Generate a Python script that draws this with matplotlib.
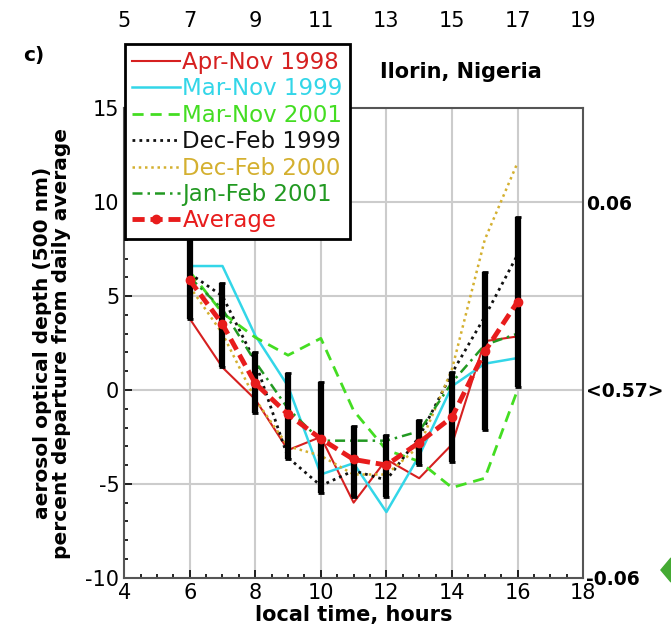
import matplotlib
matplotlib.use("Agg")
import matplotlib.pyplot as plt
from matplotlib.ticker import MultipleLocator
from matplotlib.patches import Polygon

plt.rcParams["font.family"] = ["DejaVu Sans"]
plt.rcParams["axes.unicode_minus"] = False

hours = [6, 7, 8, 9, 10, 11, 12, 13, 14, 15, 16]

apr_nov_1998 = [3.8, 1.2, -0.5, -3.2, -2.5, -6.0, -3.7, -4.7, -2.9, 2.6, 2.85]
mar_nov_1999 = [6.6, 6.6, 2.9, 0.2, -4.5, -3.9, -6.5, -3.5, 0.2, 1.4, 1.7]
mar_nov_2001 = [6.3, 4.1, 2.8, 1.85, 2.75, -1.1, -3.2, -3.8, -5.2, -4.7, 0.0]
dec_feb_1999 = [6.2, 5.0, 1.5, -3.6, -5.1, -4.3, -4.8, -2.5, 0.9, 3.9, 7.2]
dec_feb_2000 = [5.5, 3.0, -0.5, -3.0, -3.5, -4.5, -4.5, -3.0, 1.1, 8.0, 12.1]
jan_feb_2001 = [6.0, 4.3, 1.5, -1.0, -2.7, -2.7, -2.7, -2.2, 0.4, 2.4, 3.0]
average = [5.85, 3.5, 0.35, -1.3, -2.6, -3.7, -4.0, -2.8, -1.45, 2.05, 4.7]
err_low = [3.8, 1.2, -1.2, -3.7, -5.5, -5.7, -5.7, -4.0, -3.85, -2.15, 0.15]
err_high = [8.5, 5.7, 2.0, 0.9, 0.45, -1.9, -2.4, -1.6, 0.95, 6.3, 9.2]

top_ticks = [4, 6, 8, 10, 12, 14, 16, 18]
top_labels = ["5", "7", "9", "11", "13", "15", "17", "19"]
right_ticks = [10, 0, -10]
right_labels = ["0.06", "<0.57>", "-0.06"]

series = [
    ("Apr-Nov 1998", apr_nov_1998, "#d62020", "-", 1.5),
    ("Mar-Nov 1999", mar_nov_1999, "#33d6e8", "-", 1.8),
    ("Mar-Nov 2001", mar_nov_2001, "#44dd22", (0, (4, 2.5)), 2.0),
    ("Dec-Feb 1999", dec_feb_1999, "#111111", (0, (1, 1.5)), 2.0),
    ("Dec-Feb 2000", dec_feb_2000, "#d4b030", (0, (1, 1.5)), 1.8),
    ("Jan-Feb 2001", jan_feb_2001, "#229922", (0, (4, 2, 1, 2)), 1.8),
]

fig = plt.figure(figsize=(6.71, 6.37), dpi=100)
ax = fig.add_axes([0.185, 0.093, 0.684, 0.737])

for x in range(6, 17, 2):
    ax.axvline(x, color="#cccccc", lw=1.5, zorder=0)
for y in [-5, 0, 5, 10]:
    ax.axhline(y, color="#cccccc", lw=1.5, zorder=0)

handles = []
for label, vals, color, ls, lw in series:
    (h,) = ax.plot(hours, vals, color=color, ls=ls, lw=lw, label=label, zorder=2)
    handles.append(h)

yerr = [[a - l for a, l in zip(average, err_low)], [h - a for a, h in zip(average, err_high)]]
ax.errorbar(hours, average, yerr=yerr, fmt="none", ecolor="black", elinewidth=4.5,
            capsize=2, capthick=2, zorder=3)
(h_avg,) = ax.plot(hours, average, color="#e81c1c", ls=(0, (2.5, 1.2)), lw=3.5,
                   marker="o", ms=6, label="Average", zorder=4)
handles.append(h_avg)

ax.set_xlim(4, 18)
ax.set_ylim(-10, 15)
ax.set_xticks(range(4, 19, 2))
ax.set_yticks([-10, -5, 0, 5, 10, 15])
ax.xaxis.set_minor_locator(MultipleLocator(0.5))
ax.yaxis.set_minor_locator(MultipleLocator(1))
ax.tick_params(which="both", direction="in", top=True, right=True, labelsize=15, width=1.2)
ax.tick_params(which="major", length=6)
ax.tick_params(which="minor", length=3)
for s in ax.spines.values():
    s.set_linewidth(1.5)
    s.set_color("#555555")

ax.set_xlabel("local time, hours", fontsize=15, fontweight="bold", labelpad=2)
ax.set_ylabel("aerosol optical depth (500 nm)\npercent departure from daily average",
              fontsize=14.5, fontweight="bold", labelpad=10, linespacing=1.0)

ax_top = ax.twiny()
ax_top.set_xlim(ax.get_xlim())
ax_top.set_xticks(top_ticks)
ax_top.set_xticklabels(top_labels)
ax_top.tick_params(axis="x", length=0, pad=56, labelsize=15)

ax_r = ax.twinx()
ax_r.set_ylim(ax.get_ylim())
ax_r.set_yticks(right_ticks)
ax_r.set_yticklabels(right_labels, fontweight="bold")
ax_r.tick_params(axis="y", length=0, pad=2, labelsize=13.5)
for a in (ax_top, ax_r):
    for s in a.spines.values():
        s.set_visible(False)

leg = ax.legend(handles=handles, loc="upper left", bbox_to_anchor=(0.002, 1.137),
                fontsize=16.5, handlelength=2.1, handletextpad=0.1, labelspacing=0.15,
                borderpad=0.3, borderaxespad=0, fancybox=False, framealpha=1,
                edgecolor="black")
leg.get_frame().set_linewidth(2)
leg.set_zorder(10)
for t, h in zip(leg.get_texts(), handles):
    t.set_color(h.get_color())

ax.text(0.558, 1.077, "Ilorin, Nigeria", transform=ax.transAxes, fontsize=15,
        fontweight="bold", va="center")
fig.text(0.035, 1 - 55 / 637, "c)", fontsize=14.5, fontweight="bold", va="center")

fig.add_artist(Polygon([[0.985, 1 - 570 / 637], [1.0, 1 - 558 / 637], [1.0, 1 - 582 / 637]],
                       closed=True, color="#44aa33", transform=fig.transFigure))

fig.savefig("out.png", dpi=100)
